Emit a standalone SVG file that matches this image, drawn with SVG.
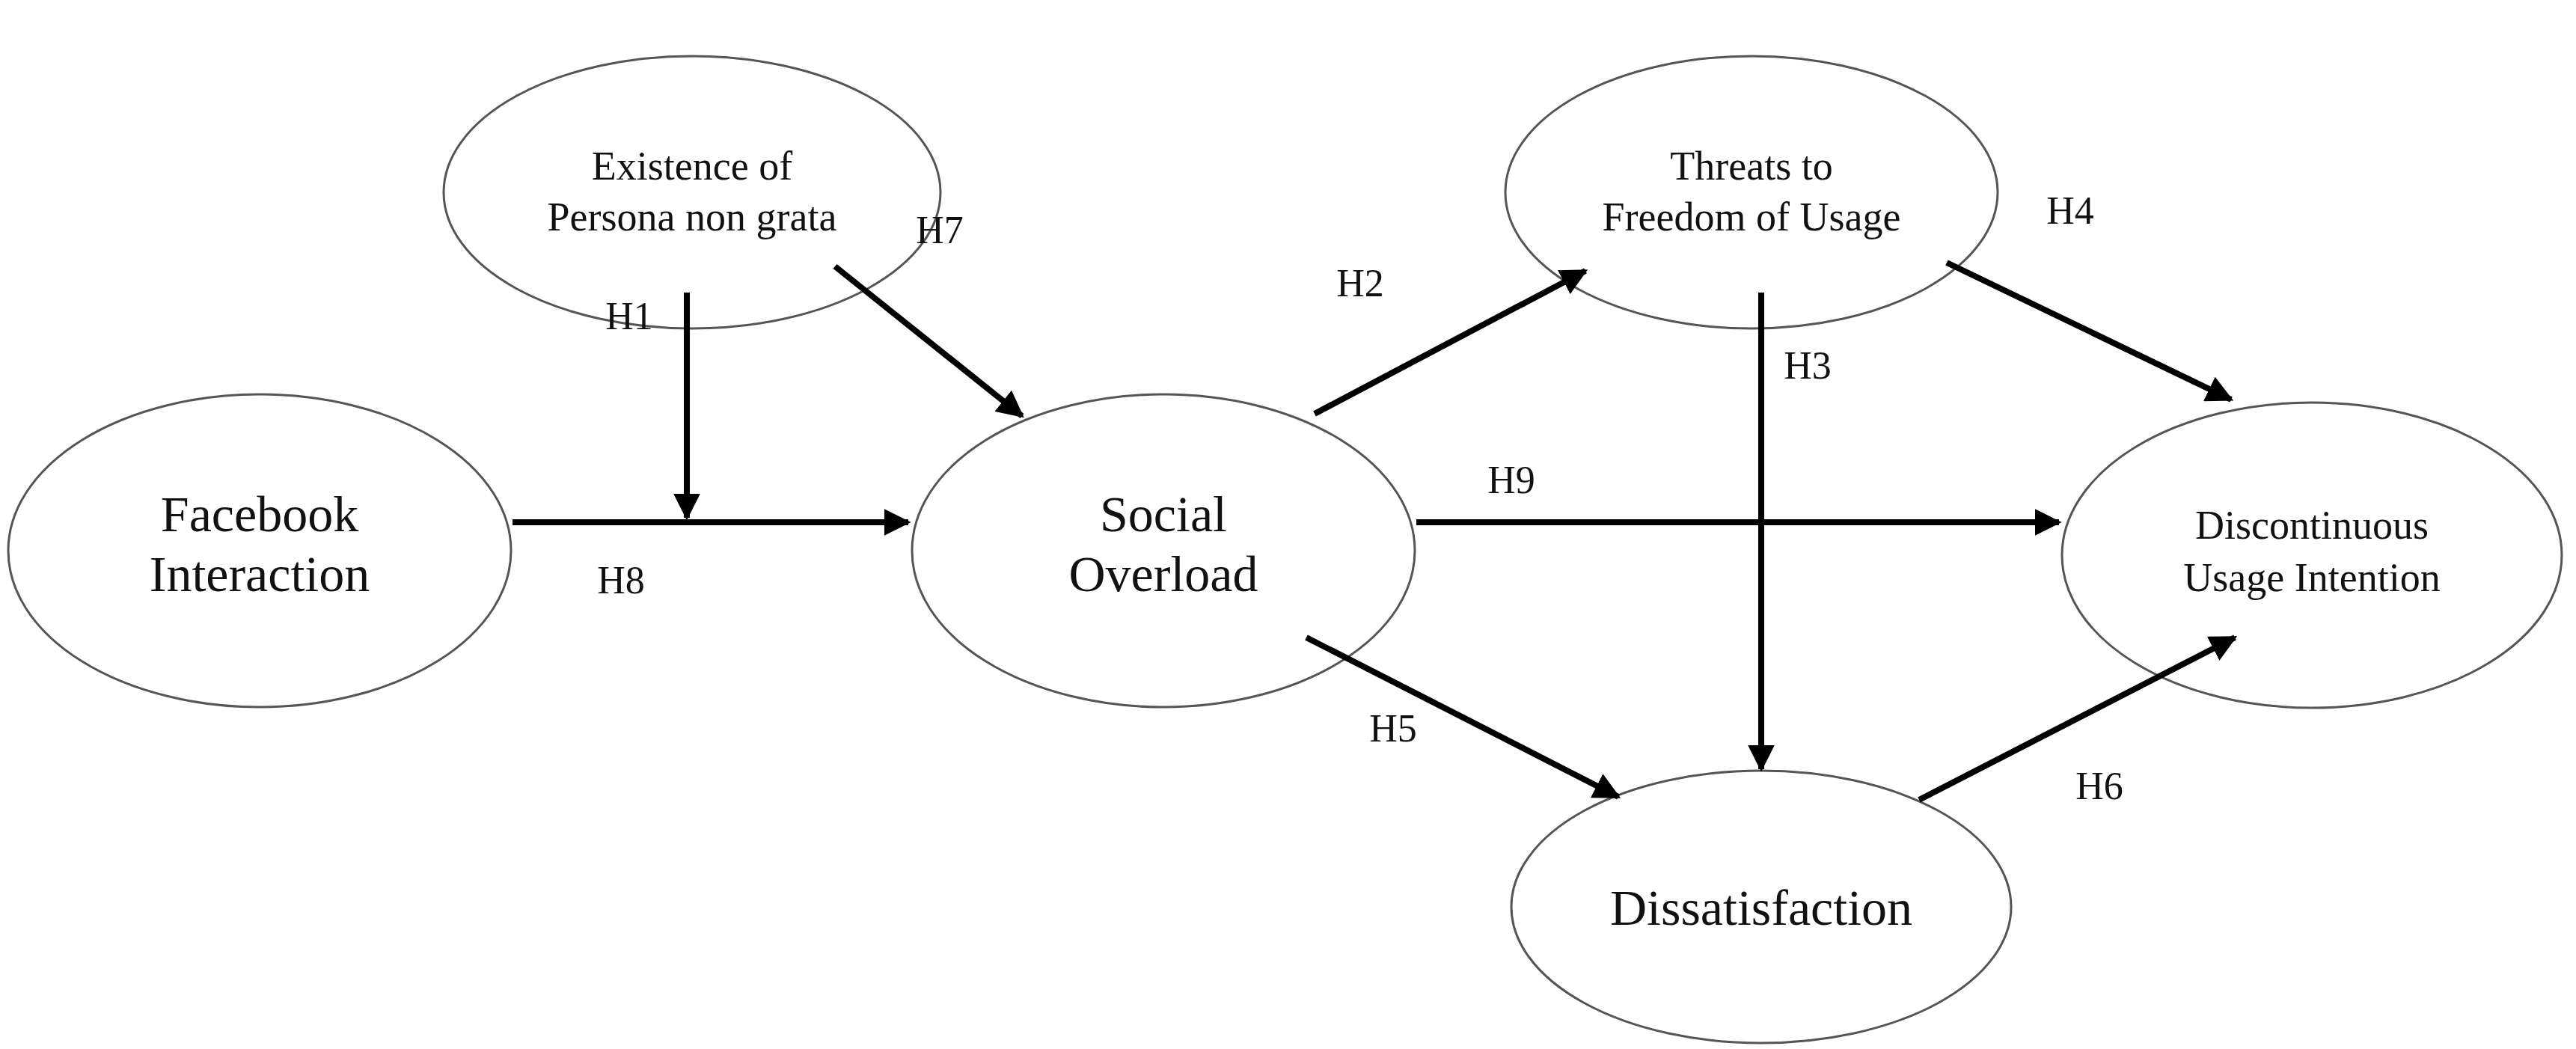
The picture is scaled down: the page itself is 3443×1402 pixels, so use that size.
<svg xmlns="http://www.w3.org/2000/svg" width="3443" height="1402" viewBox="0 0 3443 1402">
<style>
ellipse{fill:#fff;stroke:#555;stroke-width:3}
text{font-family:"Liberation Serif",serif;fill:#111;text-anchor:middle}
.big{font-size:68px}.sm{font-size:54px}.lb{font-size:52px}
.c line{stroke:#000;stroke-width:8;marker-end:url(#a)}
</style>
<defs><marker id="a" viewBox="0 0 10 10" refX="9" refY="5" markerWidth="4.5" markerHeight="4.5" orient="auto" markerUnits="strokeWidth"><path d="M0,0 L10,5 L0,10 z" fill="#000"/></marker></defs>
<rect width="3443" height="1402" fill="#fff"/>
<g id="existence"><ellipse cx="925" cy="257" rx="332" ry="182"/><text class="sm" x="925" y="240">Existence of</text><text class="sm" x="925" y="308">Persona non grata</text></g>
<g id="facebook"><ellipse cx="347" cy="736" rx="336" ry="209"/><text class="big" x="347" y="710">Facebook</text><text class="big" x="347" y="790">Interaction</text></g>
<g id="social"><ellipse cx="1555" cy="736" rx="336" ry="209"/><text class="big" x="1555" y="710">Social</text><text class="big" x="1555" y="790">Overload</text></g>
<g id="threats"><ellipse cx="2341" cy="257" rx="329" ry="182"/><text class="sm" x="2341" y="240">Threats to</text><text class="sm" x="2341" y="308">Freedom of Usage</text></g>
<g id="discontinuous"><ellipse cx="3090" cy="742" rx="334" ry="204"/><text class="sm" x="3090" y="720">Discontinuous</text><text class="sm" x="3090" y="790">Usage Intention</text></g>
<g id="dissatisfaction"><ellipse cx="2354" cy="1212" rx="334" ry="182"/><text class="big" x="2354" y="1236">Dissatisfaction</text></g>
<g class="c" id="connectors">
<line x1="918" y1="391" x2="918" y2="692"/>
<line x1="685" y1="698" x2="1214" y2="698"/>
<line x1="1116" y1="356" x2="1366" y2="556"/>
<line x1="1757" y1="553" x2="2119" y2="362"/>
<line x1="1893" y1="698" x2="2752" y2="698"/>
<line x1="2602" y1="351" x2="2982" y2="534"/>
<line x1="2354" y1="391" x2="2354" y2="1028"/>
<line x1="1746" y1="852" x2="2163" y2="1065"/>
<line x1="2565" y1="1069" x2="2987" y2="852"/>
</g>
<g id="labels">
<text class="lb" x="841" y="440">H1</text><text class="lb" x="1256" y="325">H7</text><text class="lb" x="830" y="793">H8</text>
<text class="lb" x="1818" y="396">H2</text><text class="lb" x="2020" y="659">H9</text><text class="lb" x="2416" y="506">H3</text>
<text class="lb" x="2767" y="299">H4</text><text class="lb" x="1862" y="991">H5</text><text class="lb" x="2806" y="1068">H6</text>
</g>
</svg>
